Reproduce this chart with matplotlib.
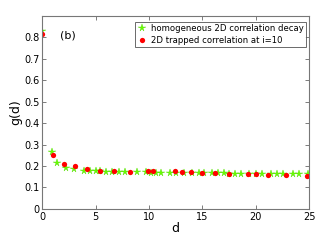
import matplotlib.pyplot as plt

# homogeneous 2D correlation decay (green stars)
d_hom = [0, 0.9, 1.4, 2.2, 3.0, 3.9, 4.5, 5.0, 5.4, 6.0, 6.5, 7.2, 7.8, 8.9, 9.7,
         10.2, 10.7, 11.1, 12.0, 12.5, 13.3, 14.0, 14.7, 15.2, 15.9, 16.5, 17.0,
         17.5, 18.1, 18.6, 19.4, 20.0, 20.6, 21.4, 22.0, 22.6, 23.5, 24.1, 24.9]
g_hom = [0.83, 0.267, 0.215, 0.193, 0.184, 0.178, 0.177, 0.176, 0.175, 0.173, 0.173,
         0.172, 0.172, 0.170, 0.170, 0.169, 0.169, 0.168, 0.168, 0.168, 0.167, 0.167,
         0.167, 0.166, 0.166, 0.166, 0.166, 0.165, 0.165, 0.165, 0.165, 0.165, 0.165,
         0.165, 0.165, 0.165, 0.165, 0.165, 0.164]

# 2D trapped correlation at i=10 (red circles)
d_trap = [0, 0.97, 2.0, 3.09, 4.21, 5.37, 6.74, 8.24, 9.93, 10.36, 12.42, 13.11,
          13.95, 14.95, 16.17, 17.54, 19.32, 20.04, 21.19, 22.84, 24.84]
g_trap = [0.817, 0.25, 0.208, 0.198, 0.187, 0.178, 0.177, 0.174, 0.178, 0.178, 0.175,
          0.174, 0.171, 0.169, 0.166, 0.165, 0.164, 0.163, 0.159, 0.156, 0.152]

fig = plt.figure(figsize=(3.32, 2.49), dpi=100)
ax = fig.add_axes([0.127, 0.161, 0.804, 0.775])

ax.plot(d_hom, g_hom, '*', color='#66ff00', markersize=5.5, markeredgewidth=0.3,
        markeredgecolor='#55dd00', label='homogeneous 2D correlation decay')
ax.plot(d_trap, g_trap, 'o', color='#ff0000', markersize=3.8, markeredgewidth=0,
        label='2D trapped correlation at i=10')

ax.set_xlim(0, 25)
ax.set_ylim(0, 0.9)
ax.set_xticks([0, 5, 10, 15, 20, 25])
ax.set_yticks([0, 0.1, 0.2, 0.3, 0.4, 0.5, 0.6, 0.7, 0.8])
ax.set_yticklabels(['0', '0.1', '0.2', '0.3', '0.4', '0.5', '0.6', '0.7', '0.8'])
ax.tick_params(direction='in', top=True, right=True, labelsize=7, length=3,
               width=0.6, color='#666666', pad=2)
for s in ax.spines.values():
    s.set_color('#777777')
    s.set_linewidth(0.8)

ax.set_xlabel('d', fontsize=9, labelpad=0)
ax.set_ylabel('g(d)', fontsize=9, labelpad=1)
ax.text(1.7, 0.81, '(b)', fontsize=8, ha='left', va='center')

leg = ax.legend(loc='upper right', bbox_to_anchor=(0.989, 0.969), borderaxespad=0,
                fontsize=6.1, frameon=True, fancybox=False,
                borderpad=0.3, handletextpad=0.4, labelspacing=0.25,
                handlelength=1.2)
leg.get_frame().set_edgecolor('#444444')
leg.get_frame().set_linewidth(0.7)

plt.savefig('out.png', dpi=100)
